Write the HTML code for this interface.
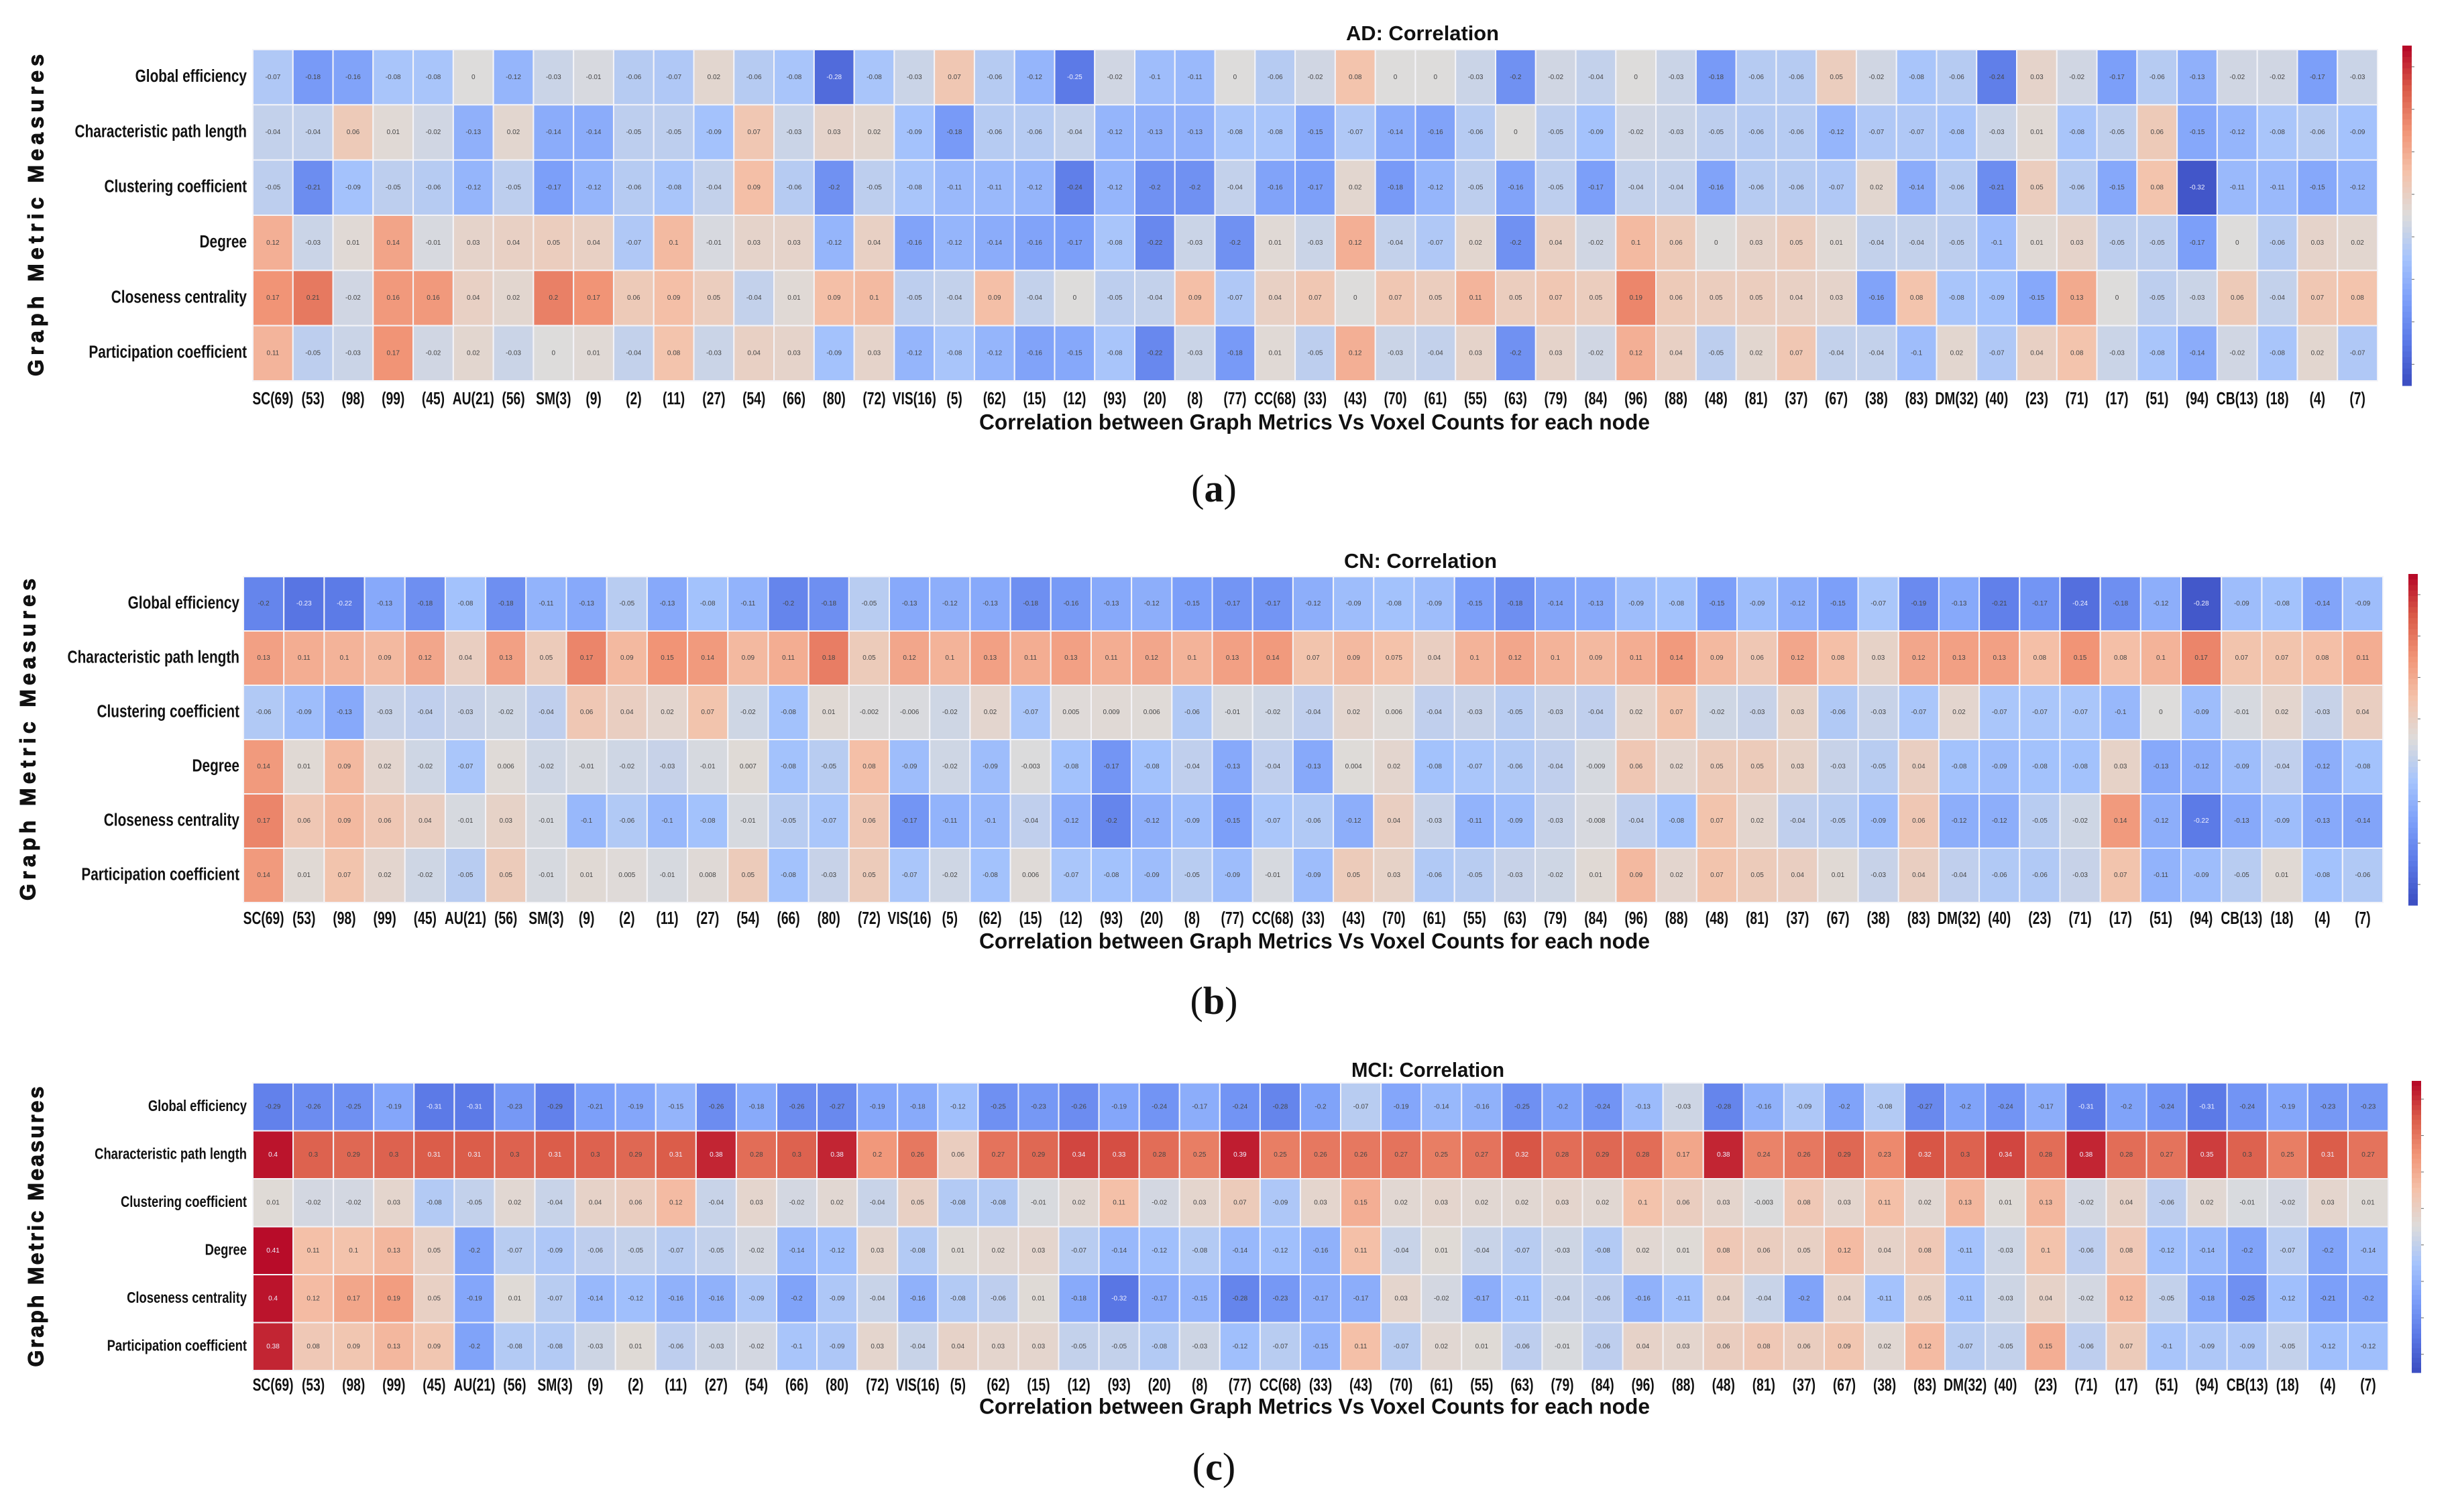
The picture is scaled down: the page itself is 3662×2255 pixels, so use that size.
<!DOCTYPE html>
<html><head><meta charset="utf-8">
<style>
html,body{margin:0;padding:0;background:#fff;}
svg{display:block;}
</style></head>
<body>
<svg id="fig" width="3662" height="2255" viewBox="0 0 3662 2255" xmlns="http://www.w3.org/2000/svg" font-family="'Liberation Sans', sans-serif"></svg>
<script>
const categories = ["SC(69)","(53)","(98)","(99)","(45)","AU(21)","(56)","SM(3)","(9)","(2)","(11)","(27)","(54)","(66)","(80)","(72)","VIS(16)","(5)","(62)","(15)","(12)","(93)","(20)","(8)","(77)","CC(68)","(33)","(43)","(70)","(61)","(55)","(63)","(79)","(84)","(96)","(88)","(48)","(81)","(37)","(67)","(38)","(83)","DM(32)","(40)","(23)","(71)","(17)","(51)","(94)","CB(13)","(18)","(4)","(7)"];
const rowLabels = ["Global efficiency","Characteristic path length","Clustering coefficient","Degree","Closeness centrality","Participation coefficient"];

const adGlobal = [-0.07,-0.18,-0.16,-0.08,-0.08,0.0,-0.12,-0.03,-0.01,-0.06,-0.07,0.02,-0.06,-0.08,-0.28,-0.08,-0.03,0.07,-0.06,-0.12,-0.25,-0.02,-0.10,-0.11,0.0,-0.06,-0.02,0.08,0.0,0.0,-0.03,-0.2,-0.02,-0.04,0.0,-0.03,-0.18,-0.06,-0.06,0.05,-0.02,-0.08,-0.06,-0.24,0.03,-0.02,-0.17,-0.06,-0.13,-0.02,-0.02,-0.17,-0.03];
const adCPL = [-0.04,-0.04,0.06,0.01,-0.02,-0.13,0.02,-0.14,-0.14,-0.05,-0.05,-0.09,0.07,-0.03,0.03,0.02,-0.09,-0.18,-0.06,-0.06,-0.04,-0.12,-0.13,-0.13,-0.08,-0.08,-0.15,-0.07,-0.14,-0.16,-0.06,0.0,-0.05,-0.09,-0.02,-0.03,-0.05,-0.06,-0.06,-0.12,-0.07,-0.07,-0.08,-0.03,0.01,-0.08,-0.05,0.06,-0.15,-0.12,-0.08,-0.06,-0.09];
const adClust = [-0.05,-0.21,-0.09,-0.05,-0.06,-0.12,-0.05,-0.17,-0.12,-0.06,-0.08,-0.04,0.09,-0.06,-0.2,-0.05,-0.08,-0.11,-0.11,-0.12,-0.24,-0.12,-0.2,-0.2,-0.04,-0.16,-0.17,0.02,-0.18,-0.12,-0.05,-0.16,-0.05,-0.17,-0.04,-0.04,-0.16,-0.06,-0.06,-0.07,0.02,-0.14,-0.06,-0.21,0.05,-0.06,-0.15,0.08,-0.32,-0.11,-0.11,-0.15,-0.12];
const adDegree = [0.12,-0.03,0.01,0.14,-0.01,0.03,0.04,0.05,0.04,-0.07,0.1,-0.01,0.03,0.03,-0.12,0.04,-0.16,-0.12,-0.14,-0.16,-0.17,-0.08,-0.22,-0.03,-0.2,0.01,-0.03,0.12,-0.04,-0.07,0.02,-0.2,0.04,-0.02,0.1,0.06,0.0,0.03,0.05,0.01,-0.04,-0.04,-0.05,-0.1,0.01,0.03,-0.05,-0.05,-0.17,0.0,-0.06,0.03,0.02];
const adClose = [0.17,0.21,-0.02,0.16,0.16,0.04,0.02,0.2,0.17,0.06,0.09,0.05,-0.04,0.01,0.09,0.1,-0.05,-0.04,0.09,-0.04,0.0,-0.05,-0.04,0.09,-0.07,0.04,0.07,0.0,0.07,0.05,0.11,0.05,0.07,0.05,0.19,0.06,0.05,0.05,0.04,0.03,-0.16,0.08,-0.08,-0.09,-0.15,0.13,0.0,-0.05,-0.03,0.06,-0.04,0.07,0.08];
const adPart = [0.11,-0.05,-0.03,0.17,-0.02,0.02,-0.03,0.0,0.01,-0.04,0.08,-0.03,0.04,0.03,-0.09,0.03,-0.12,-0.08,-0.12,-0.16,-0.15,-0.08,-0.22,-0.03,-0.18,0.01,-0.05,0.12,-0.03,-0.04,0.03,-0.2,0.03,-0.02,0.12,0.04,-0.05,0.02,0.07,-0.04,-0.04,-0.1,0.02,-0.07,0.04,0.08,-0.03,-0.08,-0.14,-0.02,-0.08,0.02,-0.07];

const cnGlobal = [-0.2,-0.23,-0.22,-0.13,-0.18,-0.08,-0.18,-0.11,-0.13,-0.05,-0.13,-0.08,-0.11,-0.2,-0.18,-0.05,-0.13,-0.12,-0.13,-0.18,-0.16,-0.13,-0.12,-0.15,-0.17,-0.17,-0.12,-0.09,-0.08,-0.09,-0.15,-0.18,-0.14,-0.13,-0.09,-0.08,-0.15,-0.09,-0.12,-0.15,-0.07,-0.19,-0.13,-0.21,-0.17,-0.24,-0.18,-0.12,-0.28,-0.09,-0.08,-0.14,-0.09];
const cnCPL = [0.13,0.11,0.1,0.09,0.12,0.04,0.13,0.05,0.17,0.09,0.15,0.14,0.09,0.11,0.18,0.05,0.12,0.1,0.13,0.11,0.13,0.11,0.12,0.1,0.13,0.14,0.07,0.09,0.075,0.04,0.1,0.12,0.1,0.09,0.11,0.14,0.09,0.06,0.12,0.08,0.03,0.12,0.13,0.13,0.08,0.15,0.08,0.1,0.17,0.07,0.07,0.08,0.11];
const cnClust = [-0.06,-0.09,-0.13,-0.03,-0.04,-0.03,-0.02,-0.04,0.06,0.04,0.02,0.07,-0.02,-0.08,0.01,-0.002,-0.006,-0.02,0.02,-0.07,0.005,0.009,0.006,-0.06,-0.01,-0.02,-0.04,0.02,0.006,-0.04,-0.03,-0.05,-0.03,-0.04,0.02,0.07,-0.02,-0.03,0.03,-0.06,-0.03,-0.07,0.02,-0.07,-0.07,-0.07,-0.1,0.0,-0.09,-0.01,0.02,-0.03,0.04];
const cnDegree = [0.14,0.01,0.09,0.02,-0.02,-0.07,0.006,-0.02,-0.01,-0.02,-0.03,-0.01,0.007,-0.08,-0.05,0.08,-0.09,-0.02,-0.09,-0.003,-0.08,-0.17,-0.08,-0.04,-0.13,-0.04,-0.13,0.004,0.02,-0.08,-0.07,-0.06,-0.04,-0.009,0.06,0.02,0.05,0.05,0.03,-0.03,-0.05,0.04,-0.08,-0.09,-0.08,-0.08,0.03,-0.13,-0.12,-0.09,-0.04,-0.12,-0.08];
const cnClose = [0.17,0.06,0.09,0.06,0.04,-0.01,0.03,-0.01,-0.1,-0.06,-0.1,-0.08,-0.01,-0.05,-0.07,0.06,-0.17,-0.11,-0.1,-0.04,-0.12,-0.2,-0.12,-0.09,-0.15,-0.07,-0.06,-0.12,0.04,-0.03,-0.11,-0.09,-0.03,-0.008,-0.04,-0.08,0.07,0.02,-0.04,-0.05,-0.09,0.06,-0.12,-0.12,-0.05,-0.02,0.14,-0.12,-0.22,-0.13,-0.09,-0.13,-0.14];
const cnPart = [0.14,0.01,0.07,0.02,-0.02,-0.05,0.05,-0.01,0.01,0.005,-0.01,0.008,0.05,-0.08,-0.03,0.05,-0.07,-0.02,-0.08,0.006,-0.07,-0.08,-0.09,-0.05,-0.09,-0.01,-0.09,0.05,0.03,-0.06,-0.05,-0.03,-0.02,0.01,0.09,0.02,0.07,0.05,0.04,0.01,-0.03,0.04,-0.04,-0.06,-0.06,-0.03,0.07,-0.11,-0.09,-0.05,0.01,-0.08,-0.06];

const mciGlobal = [-0.29,-0.26,-0.25,-0.19,-0.31,-0.31,-0.23,-0.29,-0.21,-0.19,-0.15,-0.26,-0.18,-0.26,-0.27,-0.19,-0.18,-0.12,-0.25,-0.23,-0.26,-0.19,-0.24,-0.17,-0.24,-0.28,-0.2,-0.07,-0.19,-0.14,-0.16,-0.25,-0.2,-0.24,-0.13,-0.03,-0.28,-0.16,-0.09,-0.2,-0.08,-0.27,-0.2,-0.24,-0.17,-0.31,-0.2,-0.24,-0.31,-0.24,-0.19,-0.23,-0.23];
const mciCPL = [0.4,0.3,0.29,0.3,0.31,0.31,0.3,0.31,0.3,0.29,0.31,0.38,0.28,0.3,0.38,0.2,0.26,0.06,0.27,0.29,0.34,0.33,0.28,0.25,0.39,0.25,0.26,0.26,0.27,0.25,0.27,0.32,0.28,0.29,0.28,0.17,0.38,0.24,0.26,0.29,0.23,0.32,0.3,0.34,0.28,0.38,0.28,0.27,0.35,0.3,0.25,0.31,0.27];
const mciClust = [0.01,-0.02,-0.02,0.03,-0.08,-0.05,0.02,-0.04,0.04,0.06,0.12,-0.04,0.03,-0.02,0.02,-0.04,0.05,-0.08,-0.08,-0.01,0.02,0.11,-0.02,0.03,0.07,-0.09,0.03,0.15,0.02,0.03,0.02,0.02,0.03,0.02,0.1,0.06,0.03,-0.003,0.08,0.03,0.11,0.02,0.13,0.01,0.13,-0.02,0.04,-0.06,0.02,-0.01,-0.02,0.03,0.01];
const mciDegree = [0.41,0.11,0.1,0.13,0.05,-0.2,-0.07,-0.09,-0.06,-0.05,-0.07,-0.05,-0.02,-0.14,-0.12,0.03,-0.08,0.01,0.02,0.03,-0.07,-0.14,-0.12,-0.08,-0.14,-0.12,-0.16,0.11,-0.04,0.01,-0.04,-0.07,-0.03,-0.08,0.02,0.01,0.08,0.06,0.05,0.12,0.04,0.08,-0.11,-0.03,0.1,-0.06,0.08,-0.12,-0.14,-0.2,-0.07,-0.2,-0.14];
const mciClose = [0.4,0.12,0.17,0.19,0.05,-0.19,0.01,-0.07,-0.14,-0.12,-0.16,-0.16,-0.09,-0.2,-0.09,-0.04,-0.16,-0.08,-0.06,0.01,-0.18,-0.32,-0.17,-0.15,-0.28,-0.23,-0.17,-0.17,0.03,-0.02,-0.17,-0.11,-0.04,-0.06,-0.16,-0.11,0.04,-0.04,-0.2,0.04,-0.11,0.05,-0.11,-0.03,0.04,-0.02,0.12,-0.05,-0.18,-0.25,-0.12,-0.21,-0.2];
const mciPart = [0.38,0.08,0.09,0.13,0.09,-0.2,-0.08,-0.08,-0.03,0.01,-0.06,-0.03,-0.02,-0.1,-0.09,0.03,-0.04,0.04,0.03,0.03,-0.05,-0.05,-0.08,-0.03,-0.12,-0.07,-0.15,0.11,-0.07,0.02,0.01,-0.06,-0.01,-0.06,0.04,0.03,0.06,0.08,0.06,0.09,0.02,0.12,-0.07,-0.05,0.15,-0.06,0.07,-0.1,-0.09,-0.09,-0.05,-0.12,-0.12];

const panels = [
  {id:"ad", title:"AD: Correlation", sub:"a", rows:[adGlobal,adCPL,adClust,adDegree,adClose,adPart], vmax:0.34,
   x0:377,x1:3545,y0:74,y1:568,titleY:52,tickY:596,xlabelY:632,subY:748,cbX:3582,cbY0:68,cbY1:575,labelR:368,ytX:56,lab:26,ylen:480},
  {id:"cn", title:"CN: Correlation", sub:"b", rows:[cnGlobal,cnCPL,cnClust,cnDegree,cnClose,cnPart], vmax:0.3,
   x0:363,x1:3553,y0:860,y1:1346,titleY:839,tickY:1371,xlabelY:1406,subY:1512,cbX:3591,cbY0:856,cbY1:1350,labelR:357,ytX:44,lab:26,ylen:480},
  {id:"mci", title:"MCI: Correlation", sub:"c", rows:[mciGlobal,mciCPL,mciClust,mciDegree,mciClose,mciPart], vmax:0.42,
   x0:377,x1:3561,y0:1615,y1:2044,titleY:1598,tickY:2067,xlabelY:2100,subY:2207,cbX:3596,cbY0:1612,cbY1:2047,labelR:368,ytX:56,lab:23,ylen:418}
];

const stops = [[59,76,192],[90,120,230],[124,159,249],[166,196,252],[221,220,219],[244,194,170],[241,148,118],[218,90,72],[180,4,38]];
function cw(t){
  t=Math.max(0,Math.min(1,t));
  const p=t*(stops.length-1), i=Math.min(stops.length-2,Math.floor(p)), f=p-i;
  const a=stops[i], b=stops[i+1];
  return `rgb(${Math.round(a[0]+(b[0]-a[0])*f)},${Math.round(a[1]+(b[1]-a[1])*f)},${Math.round(a[2]+(b[2]-a[2])*f)})`;
}
const NS="http://www.w3.org/2000/svg";
const svg=document.getElementById('fig');
function mk(tag,attrs,parent,text){
  const e=document.createElementNS(NS,tag);
  for(const k in attrs) e.setAttribute(k,attrs[k]);
  if(text!==undefined) e.textContent=text;
  (parent||svg).appendChild(e);
  return e;
}

panels.forEach(P=>{
  const g=mk('g',{});
  
  
  const nC=categories.length, nR=rowLabels.length;
  const cw_=(P.x1-P.x0)/nC, rh=(P.y1-P.y0)/nR;
  const xScale=i=>P.x0+i*cw_;
  const yScale=j=>P.y0+j*rh;
  const tOf=v=>0.5+v/(2*P.vmax);

  const t=mk('text',{x:(P.x0+P.x1)/2+160,y:P.titleY,'text-anchor':'middle','dominant-baseline':'middle','font-size':31,'font-weight':'bold',fill:'#111',textLength:228,lengthAdjust:'spacingAndGlyphs'},g,P.title);
  
  

  P.rows.forEach((row,j)=>{
    row.forEach((v,i)=>{
      const tv=tOf(v);
      const r=mk('rect',{x:xScale(i),y:yScale(j),width:cw_,height:rh,fill:cw(tv),stroke:'#f4f4f8','stroke-width':2},g);
      
      
      const tx=mk('text',{x:xScale(i)+cw_/2,y:yScale(j)+rh/2,'text-anchor':'middle','dominant-baseline':'middle','font-size':10,fill:(Math.abs(tv-0.5)>0.36?'#f0f0ff':'#444')},g,String(Math.round(v*1000)/1000));
      
      
    });
    const rl=mk('text',{transform:`translate(${P.labelR},${yScale(j)+rh/2}) scale(0.8,1)`,'text-anchor':'end','dominant-baseline':'middle','font-size':P.lab,'font-weight':'bold',fill:'#111'},g,rowLabels[j]);
    
    
  });

  categories.forEach((c,i)=>{
    const tl=mk('text',{transform:`translate(${xScale(i)+cw_/2},${P.tickY}) scale(0.74,1)`,'text-anchor':'middle','dominant-baseline':'middle','font-size':26,'font-weight':'bold',fill:'#111'},g,c);
    
    
  });

  const xl=mk('text',{x:1960,y:P.xlabelY,'text-anchor':'middle','dominant-baseline':'middle','font-size':32,'font-weight':'bold',fill:'#111',textLength:1000,lengthAdjust:'spacingAndGlyphs'},g,'Correlation between Graph Metrics Vs Voxel Counts for each node');
  
  

  const yc=(P.y0+P.y1)/2;
  const yt=mk('text',{transform:`translate(${P.ytX},${yc}) rotate(-90)`,'text-anchor':'middle','dominant-baseline':'middle','font-size':32,'font-weight':'bold',fill:'#111',stroke:'#111','stroke-width':1,textLength:P.ylen,lengthAdjust:'spacing'},g,'Graph Metric Measures');
  
  

  const nb=60, bh=(P.cbY1-P.cbY0)/nb;
  for(let k=0;k<nb;k++){
    const cr=mk('rect',{x:P.cbX,y:P.cbY0+k*bh,width:14,height:bh+0.6,fill:cw(1-(k+0.5)/nb)},g);
    
    
  }
  for(let k=0;k<8;k++){
    const yy=P.cbY0+(k+0.5)*(P.cbY1-P.cbY0)/8;
    mk('line',{x1:P.cbX+14,x2:P.cbX+18,y1:yy,y2:yy,stroke:'#666','stroke-width':1},g);
  }

  const sl=mk('text',{x:1810,y:P.subY,'text-anchor':'middle','font-size':58,'font-family':"'Liberation Serif', serif",fill:'#111'},g);
  
  
  mk('tspan',{},sl,'(');
  mk('tspan',{'font-weight':'bold'},sl,P.sub);
  mk('tspan',{},sl,')');
});
</script>
</body></html>
